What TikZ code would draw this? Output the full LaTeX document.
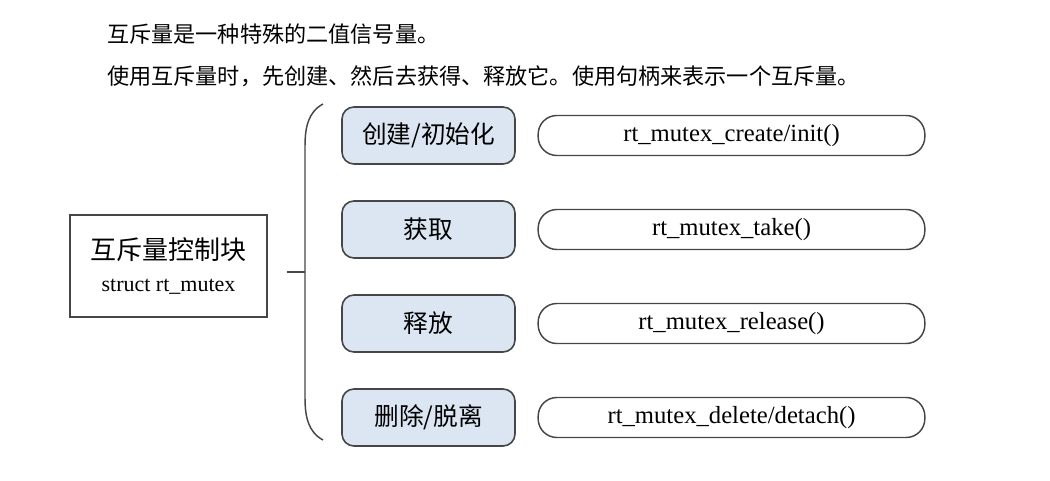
\documentclass[tikz,border=0pt]{standalone}
\usepackage{fontspec}
\setmainfont{Liberation Serif}
\newfontfamily\cjk{Noto Sans CJK SC}
\usetikzlibrary{positioning}
\definecolor{opfill}{RGB}{220,230,242}
\definecolor{edgegray}{RGB}{70,70,70}
\tikzset{
  intro/.style={anchor=west, inner sep=0pt, font=\cjk\fontsize{16.6}{20}\selectfont},
  ctrlbox/.style={draw=edgegray, line width=1.5pt, minimum width=147.75pt, minimum height=76.5pt, align=center, inner sep=0pt, font=\fontsize{16.5}{24}\selectfont},
  opbox/.style={draw=edgegray, line width=1.2pt, fill=opfill, rounded corners=9pt, minimum width=129.75pt, minimum height=42.75pt, inner sep=0pt, font=\cjk\fontsize{18.5}{20}\selectfont},
  fnbox/.style={draw=edgegray, line width=1.1pt, rounded corners=14pt, minimum width=290pt, minimum height=30pt, inner sep=0pt, font=\fontsize{18.5}{20}\selectfont},
  brace/.style={draw=edgegray, line width=1.1pt}
}
\begin{document}
\begin{tikzpicture}[x=0.75pt, y=-0.75pt]
    \useasboundingbox (0,0) rectangle (1050,481);
    \node[intro] (line1) at (107,34) {互斥量是一种特殊的二值信号量。};
    \node[intro] (line2) at (107,76) {使用互斥量时，先创建、然后去获得、释放它。使用句柄来表示一个互斥量。};
    \node[ctrlbox] (ctrl) at (168.5,266) {{\cjk\fontsize{19.5}{24}\selectfont 互斥量控制块}\\struct rt\_mutex};
    % brace
    \coordinate (stub) at (287,272);
    \coordinate (spine) at (305,272);
    \draw[brace] (stub) -- (spine);
    \draw[brace] (323,104) .. controls (308,112) and (305,128) .. (305,146) -- (305,398) .. controls (305,416) and (308,432) .. (323,440);
    \foreach \i/\op/\fn in {1/{创建/初始化}/{rt\_mutex\_create/init()},2/获取/rt\_mutex\_take(),3/释放/rt\_mutex\_release(),4/{删除/脱离}/{rt\_mutex\_delete/detach()}}
    {
        \node[opbox] (op\i) at (428.5,{135.5+94*(\i-1)}) {\op};
        \node[fnbox] (fn\i) at (731.5,{135.5+94*(\i-1)}) {\fn};
    }
\end{tikzpicture}
\end{document}
